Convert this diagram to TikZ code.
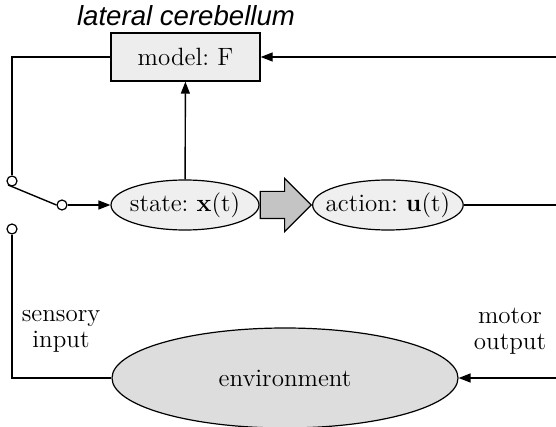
\documentclass[tikz,border=0pt]{standalone}
\usepackage{fontspec}
\newfontfamily\regionfont{Liberation Sans}
\usetikzlibrary{arrows.meta,positioning,shapes.geometric,shapes.arrows}
\definecolor{boxgray}{HTML}{EDEDED}
\definecolor{stategray}{HTML}{EFEFEF}
\definecolor{envgray}{HTML}{DDDDDD}
\definecolor{flowgray}{HTML}{C4C4C4}
\frenchspacing
\tikzset{
  every node/.style={font=\fontsize{12.5}{13}\selectfont},
  sig/.style={line width=0.7pt, -{Triangle[length=6pt,width=4.5pt]}},
  wire/.style={line width=0.7pt},
  stateov/.style={ellipse, draw, line width=0.6pt, fill=stategray, minimum width=74pt, minimum height=25pt, inner xsep=-2pt, inner ysep=0pt},
  contact/.style={circle, draw, line width=0.6pt, fill=white, minimum size=5pt, inner sep=0pt},
}
\begin{document}
\begin{tikzpicture}[x=0.5pt,y=-0.5pt]
\useasboundingbox (0,0) rectangle (556,427);
\node[font=\fontsize{13.8}{15}\regionfont\itshape] (title) at (186,16) {lateral cerebellum};
\node[draw, line width=0.7pt, fill=boxgray, minimum width=74.5pt, minimum height=24pt] (model) at (185.5,57) {model: F};
\node[stateov] (state) at (185,205) {state: \textbf{x}(t)};
\node[single arrow, draw, line width=0.6pt, fill=flowgray, minimum height=25.5pt, single arrow head extend=6.5pt, inner xsep=0pt, inner ysep=6.5pt, right=0pt of state] (flow) {};
\node[stateov, minimum width=75pt, inner xsep=-4.5pt, right=0pt of flow] (action) {action: \textbf{u}(t)};
\node[ellipse, draw, line width=0.6pt, fill=envgray, minimum width=173pt, minimum height=50pt] (env) at (285,378) {environment};
\node[contact] (sw1) at (12,181) {};
\node[contact] (sw2) at (62,205) {};
\node[contact] (sw3) at (12,229) {};
\node[align=center] (sensory) at (61,331) {sensory\\input};
\node[align=center] (motor) at (510,331) {motor\\output};
\coordinate (rtop) at (556,57);
\coordinate (rmid) at (556,205);
\coordinate (rbot) at (556,378);
% switch and forward path
\draw[wire] (model.west) -| (sw1.north);
\draw[wire] (sw1.south west) -- (sw2.west);
\draw[sig] (sw2) -- (state);
\draw[sig] (state) -- (model);
\draw[wire] (action) -- (rmid);
% loop through the world
\draw[sig] (rtop) -- (model.east);
\draw[sig] (rbot) -- (env.east);
\draw[wire] (sw3.south) |- (env.west);
\end{tikzpicture}
\end{document}
